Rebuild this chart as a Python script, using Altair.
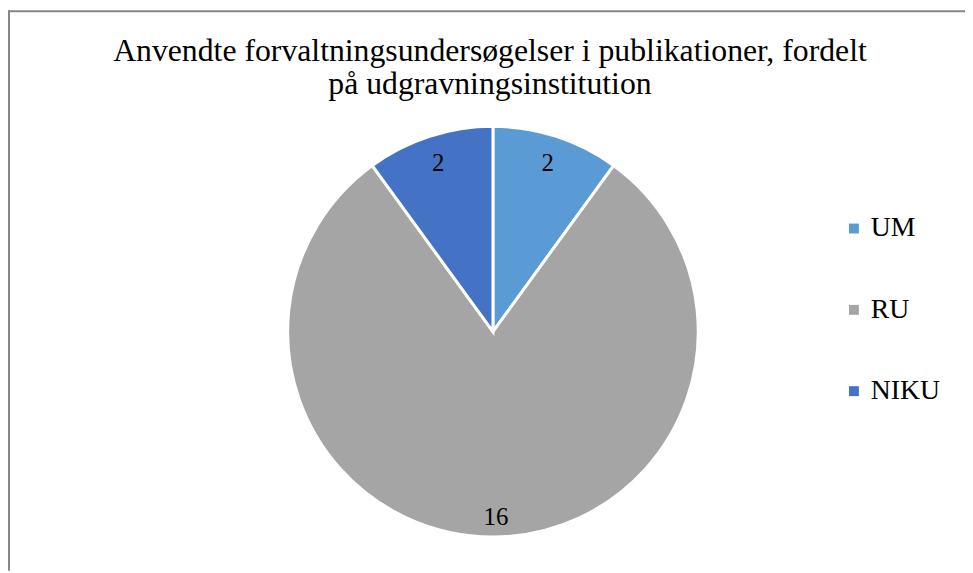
import altair as alt
import pandas as pd

categories = ["UM", "RU", "NIKU"]
values = [2, 16, 2]
order_idx = [0, 1, 2]
colors = ["#5B9BD5", "#A5A5A5", "#4472C4"]
title_lines = ["Anvendte forvaltningsundersøgelser i publikationer, fordelt",
               "på udgravningsinstitution"]

df = pd.DataFrame({"category": categories, "value": values, "idx": order_idx})
title_df = pd.DataFrame({"t": ["\n".join(title_lines)]})

W, H = 965, 565
CX, CY, R = 489, 324, 207
FONT = "'Liberation Serif', 'Times New Roman', Times, serif"

base = alt.Chart(df).encode(
    theta=alt.Theta("value:Q", stack=True),
    order=alt.Order("idx:Q"),
)

arcs = base.mark_arc(outerRadius=R, stroke="white", strokeWidth=3).encode(
    x=alt.value(CX), y=alt.value(CY),
    color=alt.Color(
        "category:N",
        scale=alt.Scale(domain=categories, range=colors),
        sort=categories,
        legend=alt.Legend(
            title=None, orient="none", legendX=839, legendY=206,
            symbolType="square", symbolSize=100, symbolStrokeWidth=0,
            labelFont=FONT, labelFontSize=28, labelColor="black",
            labelOffset=3, rowPadding=54, labelLimit=300,
        ),
    ),
)

small_labels = base.mark_text(radius=179, font=FONT, fontSize=25, color="black").encode(
    x=alt.value(CX), y=alt.value(CY),
    text=alt.condition("datum.value < 10", alt.Text("value:Q"), alt.value("")),
)
big_labels = base.mark_text(radius=187, font=FONT, fontSize=25, color="black").encode(
    x=alt.value(CX + 3), y=alt.value(CY),
    text=alt.condition("datum.value >= 10", alt.Text("value:Q"), alt.value("")),
)

title = alt.Chart(title_df).mark_text(
    font=FONT, fontSize=32, color="black", align="center", baseline="alphabetic",
    lineBreak="\n", lineHeight=33,
).encode(x=alt.value(486), y=alt.value(51), text="t:N")

frame_left = alt.Chart(title_df).mark_rule(color="#868686", strokeWidth=2).encode(
    x=alt.value(1), y=alt.value(0), y2=alt.value(H))
frame_top = alt.Chart(title_df).mark_rule(color="#868686", strokeWidth=2).encode(
    y=alt.value(1), x=alt.value(0), x2=alt.value(W))

chart = alt.layer(arcs, small_labels, big_labels, title, frame_left, frame_top).properties(
    width=W, height=H, padding=0,
    autosize=alt.AutoSizeParams(type="none"),
).configure(
    background="white", font=FONT,
    legend=alt.LegendConfig(labelFont=FONT),
    text=alt.MarkConfig(font=FONT),
).configure_view(stroke=None)

chart.save("out.html", embed_options={"renderer": "svg", "actions": False})
